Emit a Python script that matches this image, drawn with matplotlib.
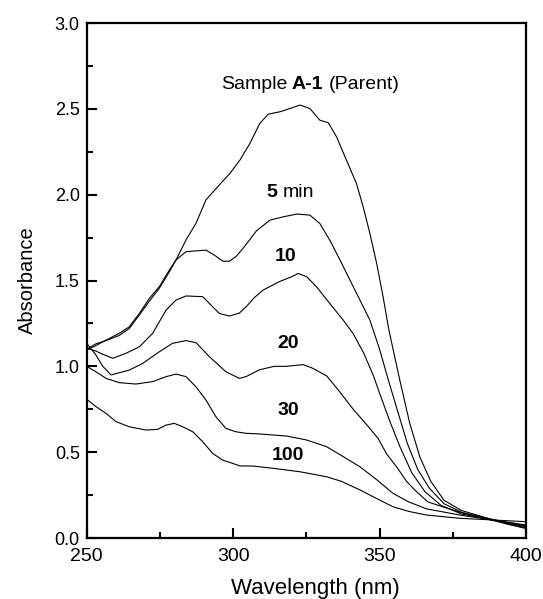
import matplotlib.pyplot as plt
from matplotlib.ticker import MultipleLocator, FormatStrFormatter

plt.rcParams['font.family'] = ['Liberation Sans', 'DejaVu Sans']

# spectra: wavelength (nm) / absorbance
wl_parent = [250, 253, 256.6, 261.1, 264.5, 268, 271.4, 274.8, 278.2, 280.5, 283.9, 287.3,
             290.7, 294.4, 298.9, 302.3, 305.7, 309.1, 312, 316, 319.4, 322.8, 326.2, 329.6,
             332.5, 335.3, 338.7, 342.1, 344.4, 346.7, 349, 351.2, 353.2, 356.9, 360.3, 363.8,
             367.5, 372, 378, 387, 394, 400]
ab_parent = [1.095, 1.12, 1.153, 1.192, 1.23, 1.309, 1.396, 1.464, 1.561, 1.62, 1.736, 1.833,
             1.969, 2.04, 2.124, 2.201, 2.298, 2.415, 2.469, 2.483, 2.502, 2.522, 2.502, 2.434,
             2.419, 2.337, 2.201, 2.065, 1.929, 1.774, 1.6, 1.405, 1.21, 0.92, 0.668, 0.47,
             0.33, 0.22, 0.16, 0.115, 0.08, 0.055]

wl_5 = [250, 253, 256.6, 261.1, 264.5, 268, 271.4, 274.8, 278.2, 280.5, 283.9, 290.7, 293.6,
        296.4, 298.7, 301, 303.5, 308, 312.6, 317.1, 321.7, 326.2, 329.6, 333, 336.5, 339.9,
        343.3, 346.7, 350, 353, 356.5, 359.5, 363, 367, 372, 378, 387, 394, 400]
ab_5 = [1.10, 1.13, 1.15, 1.18, 1.22, 1.30, 1.38, 1.455, 1.55, 1.62, 1.668, 1.677, 1.648,
        1.613, 1.612, 1.64, 1.69, 1.79, 1.852, 1.871, 1.887, 1.881, 1.832, 1.735, 1.619,
        1.502, 1.386, 1.269, 1.10, 0.92, 0.72, 0.55, 0.40, 0.29, 0.20, 0.15, 0.11, 0.08, 0.06]

wl_10 = [250, 253, 255.5, 258.9, 263.4, 268, 272.5, 277.1, 280.5, 283.9, 289.6, 293, 295.3,
         298.7, 302.1, 304.6, 307.2, 310.3, 316, 320, 322.2, 325.1, 328.5, 333, 337.6, 341,
         344.5, 347.8, 350.5, 353.5, 357, 361, 365.5, 371, 378, 387, 394, 400]
ab_10 = [1.105, 1.09, 1.07, 1.047, 1.076, 1.114, 1.192, 1.328, 1.386, 1.41, 1.406, 1.347,
         1.308, 1.293, 1.31, 1.35, 1.40, 1.445, 1.495, 1.522, 1.541, 1.522, 1.463, 1.366,
         1.269, 1.19, 1.08, 0.95, 0.82, 0.68, 0.53, 0.38, 0.27, 0.19, 0.14, 0.11, 0.085, 0.066]

wl_20 = [250, 253, 255.5, 258.3, 264.5, 269.1, 274.8, 279.3, 283.9, 287.3, 291.9, 297.5,
         302.1, 304.4, 309, 314, 318, 323.9, 327, 331.9, 336, 341, 345.6, 349.5, 352.4,
         356, 359.2, 362, 366.5, 377.4, 388, 400]
ab_20 = [1.134, 1.07, 1.0, 0.95, 0.978, 1.017, 1.085, 1.134, 1.15, 1.138, 1.056, 0.969,
         0.93, 0.94, 0.98, 1.0, 1.0, 1.01, 0.99, 0.945, 0.86, 0.75, 0.66, 0.58, 0.49, 0.41,
         0.33, 0.28, 0.21, 0.15, 0.11, 0.07]

wl_30 = [250, 253, 256.6, 261.1, 266.8, 272.5, 277.1, 280.5, 283.9, 287.3, 290.7, 294.1,
         297.5, 300.9, 304.4, 309.2, 318.3, 325.1, 331.9, 337, 343.3, 349, 354.6, 360, 366,
         377.4, 388.7, 400]
ab_30 = [1.0, 0.97, 0.93, 0.905, 0.897, 0.911, 0.94, 0.955, 0.94, 0.881, 0.804, 0.707,
         0.639, 0.619, 0.61, 0.606, 0.594, 0.571, 0.532, 0.48, 0.415, 0.34, 0.26, 0.21,
         0.17, 0.134, 0.105, 0.076]

wl_100 = [250, 253.2, 256.6, 260, 264.5, 270.2, 274.2, 277.1, 279.9, 282.8, 286.2, 289.6,
          293, 296.4, 299.8, 302.3, 306.9, 313.7, 322.8, 331.9, 337, 343.3, 349, 354.6,
          360, 366, 377.4, 388.8, 400]
ab_100 = [0.808, 0.765, 0.726, 0.678, 0.648, 0.629, 0.633, 0.658, 0.668, 0.648, 0.619,
          0.561, 0.493, 0.454, 0.435, 0.42, 0.419, 0.406, 0.386, 0.357, 0.33, 0.28, 0.23,
          0.182, 0.155, 0.134, 0.115, 0.105, 0.095]

curves = [(wl_parent, ab_parent), (wl_5, ab_5), (wl_10, ab_10),
          (wl_20, ab_20), (wl_30, ab_30), (wl_100, ab_100)]

fig = plt.figure(figsize=(5.43, 5.99), dpi=100)
ax = fig.add_axes([0.1597, 0.1018, 0.809, 0.8598])

for wl, ab in curves:
    ax.plot(wl, ab, color='black', lw=0.8)

ax.set_xlim(250, 400)
ax.set_ylim(0, 3.0)
ax.xaxis.set_major_locator(MultipleLocator(50))
ax.xaxis.set_minor_locator(MultipleLocator(25))
ax.yaxis.set_major_locator(MultipleLocator(0.5))
ax.yaxis.set_minor_locator(MultipleLocator(0.25))
ax.yaxis.set_major_formatter(FormatStrFormatter('%.1f'))
ax.tick_params(which='both', direction='in', width=1.5)
ax.tick_params(which='major', length=7)
ax.tick_params(which='minor', length=4)
ax.tick_params(axis='x', labelsize=14, pad=7)
ax.tick_params(axis='y', labelsize=13, pad=5)
for s in ax.spines.values():
    s.set_linewidth(1.6)

ax.set_xlabel('Wavelength (nm)', fontsize=16)
ax.xaxis.set_label_coords(0.52, -0.078)
ax.set_ylabel('Absorbance', fontsize=14.5, labelpad=13)

# curve annotations
fs = 14
ax.text(295.8, 2.64, 'Sample', ha='left', va='center', fontsize=fs)
ax.text(320.1, 2.64, 'A-1', ha='left', va='center', fontsize=fs, weight='bold')
ax.text(332.7, 2.64, '(Parent)', ha='left', va='center', fontsize=fs)
ax.text(311.4, 2.01, '5', ha='left', va='center', fontsize=fs, weight='bold')
ax.text(316.9, 2.01, 'min', ha='left', va='center', fontsize=fs)
ax.text(318.0, 1.64, '10', ha='center', va='center', fontsize=fs, weight='bold')
ax.text(318.8, 1.136, '20', ha='center', va='center', fontsize=fs, weight='bold')
ax.text(318.7, 0.745, '30', ha='center', va='center', fontsize=fs, weight='bold')
ax.text(318.6, 0.478, '100', ha='center', va='center', fontsize=fs, weight='bold')

fig.savefig('out.png', dpi=100)
